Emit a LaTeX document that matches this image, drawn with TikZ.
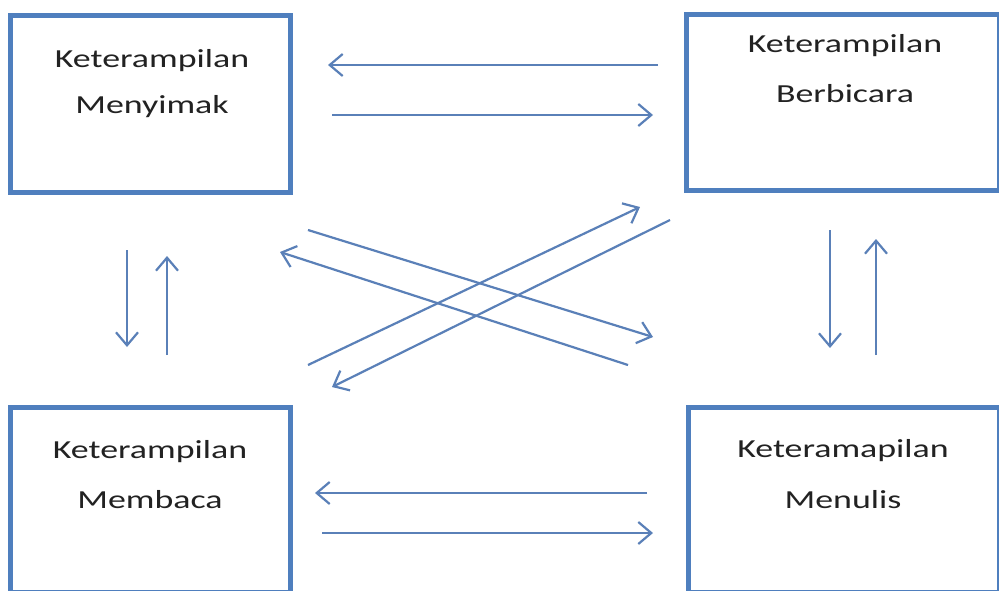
\documentclass[tikz,border=0pt]{standalone}
\usepackage{fontspec}
\usetikzlibrary{arrows.meta}
\newfontfamily\skillfont[FakeStretch=1.38]{Carlito}
\definecolor{boxblue}{HTML}{4F7FBE}
\definecolor{arrowblue}{HTML}{5A80B8}
\definecolor{inktext}{HTML}{222222}
\tikzset{
  skillbox/.style={draw=boxblue, line width=5pt, rectangle, inner sep=0pt},
  skilltext/.style={anchor=base, inner sep=0pt, text=inktext,
    font=\skillfont\fontsize{26}{30}\selectfont},
  flow/.style={draw=arrowblue, line width=2.2pt,
    -{Straight Barb[length=13pt,width=22pt,line width=2.2pt]}}
}
\begin{document}
\begin{tikzpicture}[x=1pt,y=-1pt]
\useasboundingbox (0,0) rectangle (999,590);
\fill[white] (0,0) rectangle (999,590);

% the four skill boxes
\node[skillbox, minimum width=279.5pt, minimum height=177pt] (tl) at (150.25,104) {};
\node[skillbox, minimum width=313pt, minimum height=176pt] (tr) at (843,102) {};
\node[skillbox, minimum width=279.5pt, minimum height=185pt] (bl) at (150.25,500) {};
\node[skillbox, minimum width=311pt, minimum height=185pt] (br) at (844,500) {};

% box labels
\node[skilltext] (tl1) at (152,67) {Keterampilan};
\node[skilltext] (tl2) at (152,113) {Menyimak};
\node[skilltext] (tr1) at (845,52) {Keterampilan};
\node[skilltext] (tr2) at (845,102) {Berbicara};
\node[skilltext] (bl1) at (150,458) {Keterampilan};
\node[skilltext] (bl2) at (150,508) {Membaca};
\node[skilltext] (br1) at (843,457) {Keteramapilan};
\node[skilltext] (br2) at (843,508) {Menulis};

% arrow end points
\coordinate (h1s) at (658,65);  \coordinate (h1e) at (328,65);
\coordinate (h2s) at (332,115); \coordinate (h2e) at (653,115);
\coordinate (h3s) at (647,493); \coordinate (h3e) at (315,493);
\coordinate (h4s) at (322,533); \coordinate (h4e) at (653,533);
\coordinate (v1s) at (127,250); \coordinate (v1e) at (127,347);
\coordinate (v2s) at (167,355); \coordinate (v2e) at (167,256);
\coordinate (v3s) at (830,230); \coordinate (v3e) at (830,348);
\coordinate (v4s) at (876,355); \coordinate (v4e) at (876,239);
\coordinate (d1s) at (308,230); \coordinate (d1e) at (653,337);
\coordinate (d2s) at (628,365); \coordinate (d2e) at (280,252);
\coordinate (d3s) at (308,365); \coordinate (d3e) at (640,207);
\coordinate (d4s) at (670,220); \coordinate (d4e) at (332,387);

% horizontal links
\draw[flow] (h1s) -- (h1e);
\draw[flow] (h2s) -- (h2e);
\draw[flow] (h3s) -- (h3e);
\draw[flow] (h4s) -- (h4e);
% vertical links
\draw[flow] (v1s) -- (v1e);
\draw[flow] (v2s) -- (v2e);
\draw[flow] (v3s) -- (v3e);
\draw[flow] (v4s) -- (v4e);
% diagonal links
\draw[flow] (d1s) -- (d1e);
\draw[flow] (d2s) -- (d2e);
\draw[flow] (d3s) -- (d3e);
\draw[flow] (d4s) -- (d4e);
\end{tikzpicture}
\end{document}
